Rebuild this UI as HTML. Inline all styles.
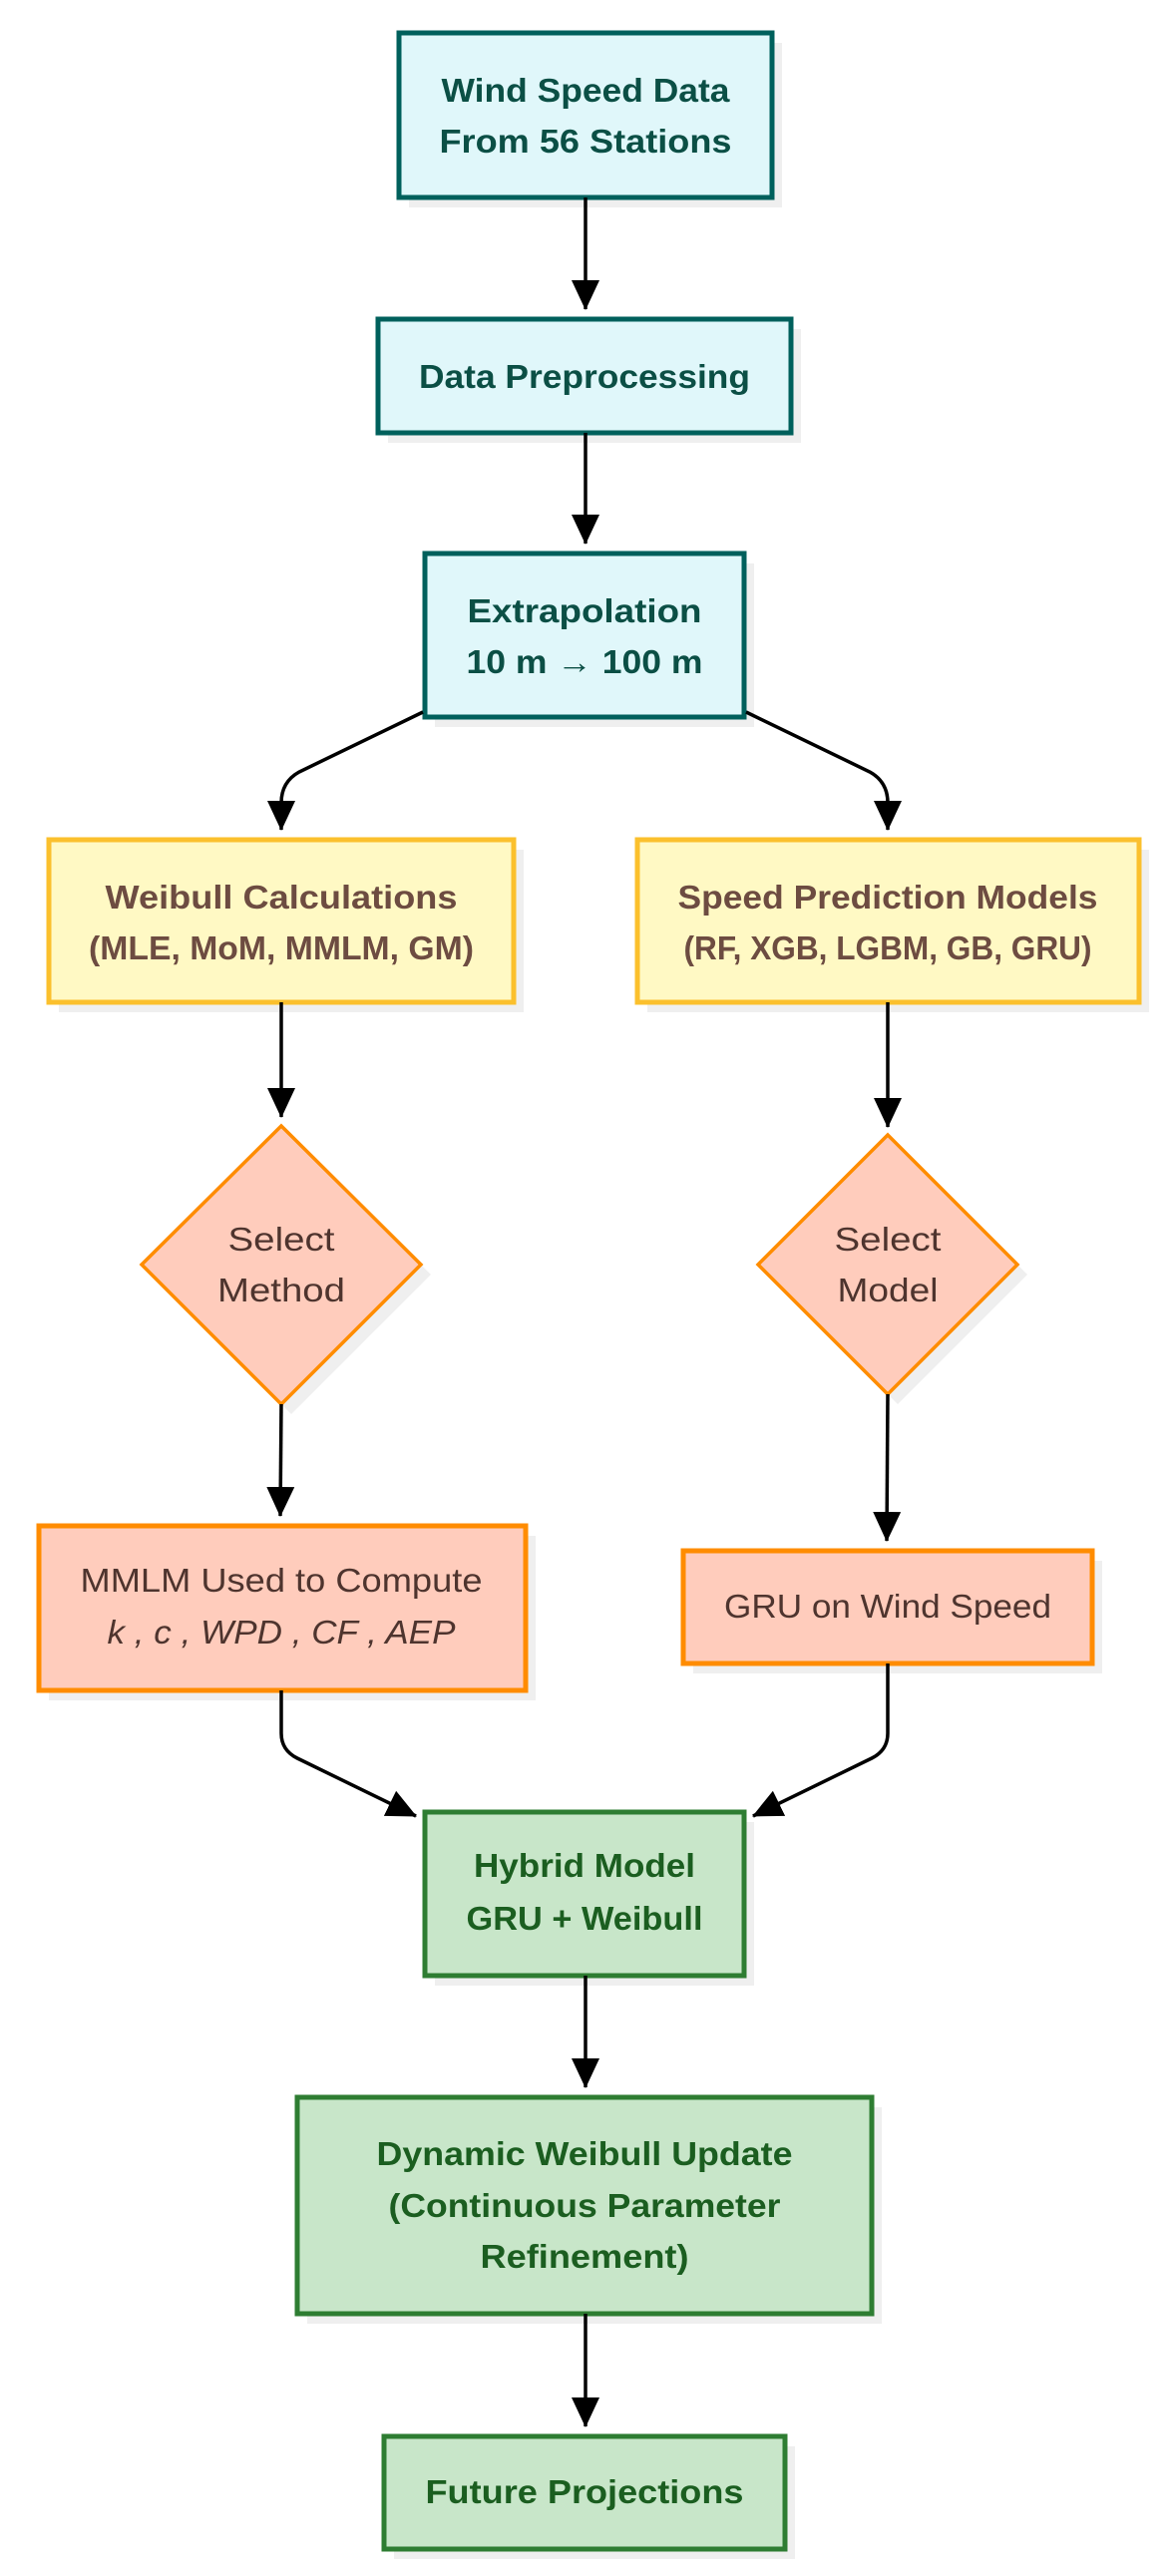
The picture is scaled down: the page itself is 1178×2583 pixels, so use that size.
<!DOCTYPE html>
<html><head><meta charset="utf-8"><style>html,body{margin:0;padding:0;background:#fff}svg{display:block}</style></head>
<body>
<svg width="1178" height="2583" viewBox="0 0 1178 2583" xmlns="http://www.w3.org/2000/svg" font-family="'Liberation Sans', sans-serif">
<defs>
<marker id="ah" markerWidth="30" markerHeight="28" refX="29" refY="14" orient="auto" markerUnits="userSpaceOnUse" viewBox="0 0 30 28"><path d="M0,0 L30,14 L0,28 z" fill="#000"/></marker>
</defs>
<g fill="#efefef">
<rect x="410" y="43" width="374" height="165"/>
<rect x="389" y="330" width="414" height="114"/>
<rect x="436" y="565" width="320" height="164"/>
<rect x="59" y="852" width="466" height="163"/>
<rect x="649" y="852" width="503" height="163"/>
<polygon points="292,1139 432,1278 292,1418 152,1278"/>
<polygon points="900,1148 1030,1278 900,1408 770,1278"/>
<rect x="49" y="1540" width="488" height="165"/>
<rect x="695" y="1565" width="410" height="113"/>
<rect x="436" y="1827" width="320" height="164"/>
<rect x="308" y="2113" width="576" height="217"/>
<rect x="395" y="2453" width="402" height="113"/>
</g>
<g stroke-width="5">
<rect x="400" y="33" width="374" height="165" fill="#e0f7fa" stroke="#00605c"/>
<rect x="379" y="320" width="414" height="114" fill="#e0f7fa" stroke="#00605c"/>
<rect x="426" y="555" width="320" height="164" fill="#e0f7fa" stroke="#00605c"/>
<rect x="49" y="842" width="466" height="163" fill="#fff9c4" stroke="#fbc02d"/>
<rect x="639" y="842" width="503" height="163" fill="#fff9c4" stroke="#fbc02d"/>
<polygon points="282,1129 422,1268 282,1408 142,1268" fill="#ffccbc" stroke="#ff8c00" stroke-width="3.5"/>
<polygon points="890,1138 1020,1268 890,1398 760,1268" fill="#ffccbc" stroke="#ff8c00" stroke-width="3.5"/>
<rect x="39" y="1530" width="488" height="165" fill="#ffccbc" stroke="#ff8c00"/>
<rect x="685" y="1555" width="410" height="113" fill="#ffccbc" stroke="#ff8c00"/>
<rect x="426" y="1817" width="320" height="164" fill="#c8e6c9" stroke="#2e7d32"/>
<rect x="298" y="2103" width="576" height="217" fill="#c8e6c9" stroke="#2e7d32"/>
<rect x="385" y="2443" width="402" height="113" fill="#c8e6c9" stroke="#2e7d32"/>
</g>
<g stroke="#000" stroke-width="3.5" fill="none" marker-end="url(#ah)">
<path d="M587,198 V310" />
<path d="M587,434 V545"/>
<path d="M424,714 L300,774 Q282,784 282,805 V832"/>
<path d="M748,714 L872,774 Q890,784 890,805 V832"/>
<path d="M282,1005 V1120"/>
<path d="M890,1005 V1130"/>
<path d="M282,1408 L281,1520"/>
<path d="M890,1398 L889,1545"/>
<path d="M282,1695 V1738 Q282,1755 298,1763 L417,1821"/>
<path d="M890,1668 V1738 Q890,1755 874,1763 L755,1821"/>
<path d="M587,1981 V2093"/>
<path d="M587,2320 V2433"/>
</g>
<g text-anchor="middle" font-weight="bold" font-size="33" fill="#0b4f45">
<text x="587" y="102" textLength="289" lengthAdjust="spacingAndGlyphs">Wind Speed Data</text>
<text x="587" y="153" textLength="293" lengthAdjust="spacingAndGlyphs">From 56 Stations</text>
<text x="586" y="389" textLength="332" lengthAdjust="spacingAndGlyphs">Data Preprocessing</text>
<text x="586" y="624" textLength="235" lengthAdjust="spacingAndGlyphs">Extrapolation</text>
<text x="586" y="675" textLength="237" lengthAdjust="spacingAndGlyphs">10 m → 100 m</text>
</g>
<g text-anchor="middle" font-weight="bold" font-size="33" fill="#6d4c41">
<text x="282" y="911" textLength="353" lengthAdjust="spacingAndGlyphs">Weibull Calculations</text>
<text x="282" y="962" textLength="386" lengthAdjust="spacingAndGlyphs">(MLE, MoM, MMLM, GM)</text>
<text x="890" y="911" textLength="421" lengthAdjust="spacingAndGlyphs">Speed Prediction Models</text>
<text x="890" y="962" textLength="409" lengthAdjust="spacingAndGlyphs">(RF, XGB, LGBM, GB, GRU)</text>
</g>
<g text-anchor="middle" font-size="33" fill="#4e342e">
<text x="282" y="1254" textLength="107" lengthAdjust="spacingAndGlyphs">Select</text>
<text x="282" y="1305" textLength="128" lengthAdjust="spacingAndGlyphs">Method</text>
<text x="890" y="1254" textLength="107" lengthAdjust="spacingAndGlyphs">Select</text>
<text x="890" y="1305" textLength="101" lengthAdjust="spacingAndGlyphs">Model</text>
<text x="282" y="1596" textLength="403" lengthAdjust="spacingAndGlyphs">MMLM Used to Compute</text>
<text x="282" y="1648" textLength="349" lengthAdjust="spacingAndGlyphs" font-style="italic">k , c , WPD , CF , AEP</text>
<text x="890" y="1622" textLength="328" lengthAdjust="spacingAndGlyphs">GRU on Wind Speed</text>
</g>
<g text-anchor="middle" font-weight="bold" font-size="33" fill="#1b5e20">
<text x="586" y="1882" textLength="222" lengthAdjust="spacingAndGlyphs">Hybrid Model</text>
<text x="586" y="1935" textLength="237" lengthAdjust="spacingAndGlyphs">GRU + Weibull</text>
<text x="586" y="2171" textLength="417" lengthAdjust="spacingAndGlyphs">Dynamic Weibull Update</text>
<text x="586" y="2223" textLength="393" lengthAdjust="spacingAndGlyphs">(Continuous Parameter</text>
<text x="586" y="2274" textLength="209" lengthAdjust="spacingAndGlyphs">Refinement)</text>
<text x="586" y="2510" textLength="319" lengthAdjust="spacingAndGlyphs">Future Projections</text>
</g>
</svg>
</body></html>
